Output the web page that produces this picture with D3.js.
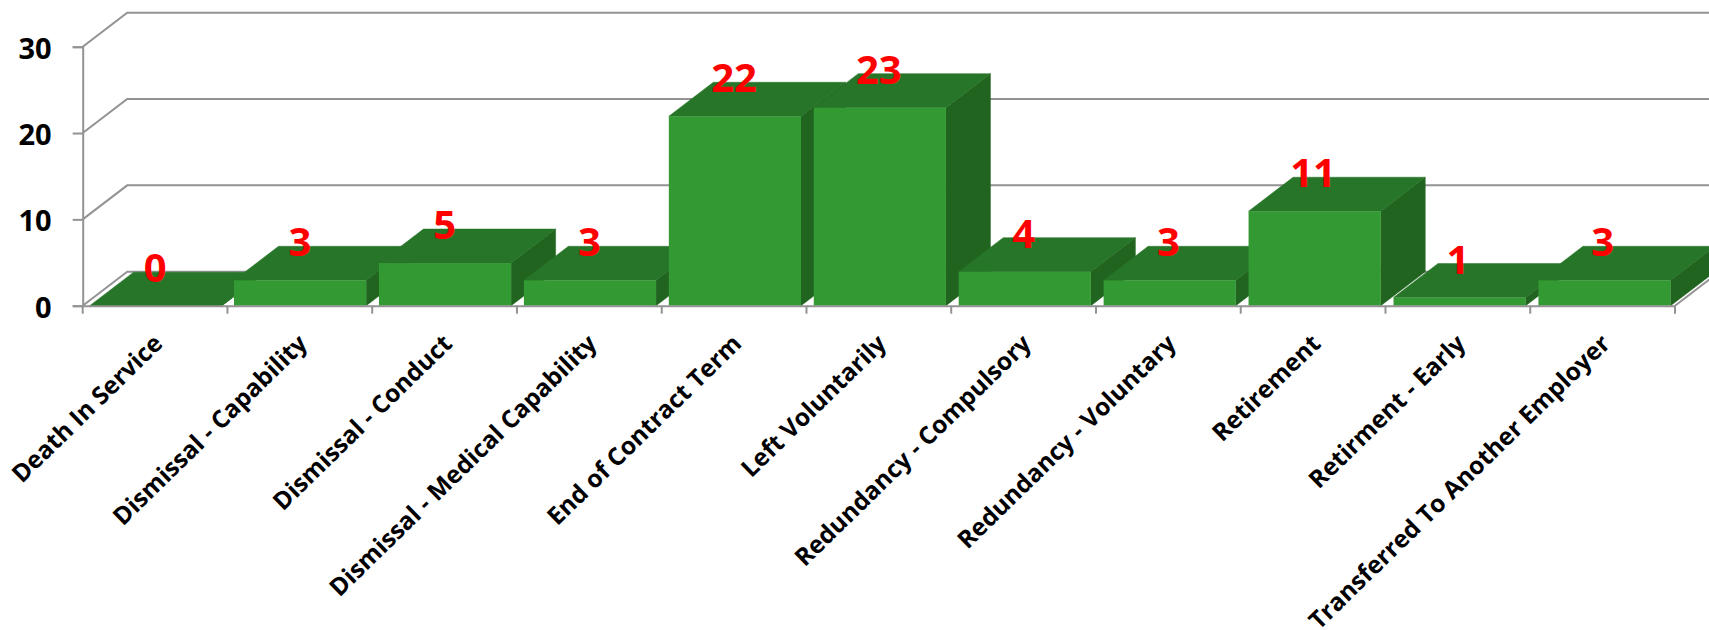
<!DOCTYPE html>
<html>
<head>
<meta charset="utf-8">
<script src="https://cdn.jsdelivr.net/npm/d3@7"></script>
<style>
  html, body { margin: 0; padding: 0; background: #fff; overflow: hidden; }
  text { font-family: "Open Sans", sans-serif; font-weight: 700; }
</style>
</head>
<body>
<div id="chart"></div>
<script>
// Leavers by reason
const reasons = ["Death In Service", "Dismissal - Capability", "Dismissal - Conduct",
    "Dismissal - Medical Capability", "End of Contract Term", "Left Voluntarily",
    "Redundancy - Compulsory", "Redundancy - Voluntary", "Retirement",
    "Retirment - Early", "Transferred To Another Employer"];
const counts = [0, 3, 5, 3, 22, 23, 4, 3, 11, 1, 3];
const yTicks = [0, 10, 20, 30];

const totalWidth = 1709;
const totalHeight = 630;
const margin = {left: 82.7, top: 46.7, right: 34, bottom: 324.3};
const width = totalWidth - margin.left - margin.right;
const height = totalHeight - margin.top - margin.bottom;

// how far the 3d box goes back
const depthX = 44.5;
const depthY = 34;

const gridColor = "#939393";
const frontColor = "#339933";
const topColor = "#277528";
const sideColor = "#216420";

const svg = d3.select("#chart")
    .append("svg")
    .attr("width", totalWidth)
    .attr("height", totalHeight)
    .append("g")
    .attr("transform", `translate(${margin.left},${margin.top})`);

const x = d3.scaleBand()
    .domain(reasons)
    .range([0, width])
    .paddingInner(0.088)
    .paddingOuter(0.044);

// bars drift a little to the right of the ticks in the original
const xBars = d3.scaleBand()
    .domain(reasons)
    .range([0, width + 2])
    .paddingInner(0.088)
    .paddingOuter(0.044);

const y = d3.scaleLinear()
    .domain([0, 30])
    .range([height, 0]);

// Back wall: slanted part and long horizontal part of each gridline
yTicks.forEach(function(t) {
    svg.append("path")
        .attr("d", `M0,${y(t)}L${depthX},${y(t) - depthY}H${totalWidth}`)
        .attr("fill", "none")
        .attr("stroke", gridColor)
        .attr("stroke-width", 2);
});

// Floor, right hand edge
svg.append("line")
    .attr("x1", width)
    .attr("y1", y(0))
    .attr("x2", width + depthX)
    .attr("y2", y(0) - depthY)
    .attr("stroke", gridColor)
    .attr("stroke-width", 2);

// Bars, left to right so the next front face covers the last side
reasons.forEach(function(reason, i) {
    const x0 = xBars(reason);
    const x1 = x0 + xBars.bandwidth();
    const yTop = y(counts[i]) + 0.5;
    const yBase = y(0);

    svg.append("path")
        .attr("d", `M${x1},${yTop}L${x1 + depthX},${yTop - depthY}V${yBase - depthY}L${x1},${yBase}Z`)
        .attr("fill", sideColor)
        .attr("stroke", sideColor)
        .attr("stroke-width", 0.5);

    svg.append("path")
        .attr("d", `M${x0},${yTop}L${x0 + depthX},${yTop - depthY}H${x1 + depthX}L${x1},${yTop}Z`)
        .attr("fill", topColor)
        .attr("stroke", topColor)
        .attr("stroke-width", 0.5);

    svg.append("rect")
        .attr("x", x0)
        .attr("y", yTop)
        .attr("width", xBars.bandwidth())
        .attr("height", yBase - yTop)
        .attr("fill", frontColor);
});

// Y axis
const yAxis = svg.append("g")
    .call(d3.axisLeft(y).tickValues(yTicks).tickSize(10).tickPadding(21).tickFormat(d3.format("d")));
yAxis.selectAll("line, path").attr("stroke", gridColor).attr("stroke-width", 2);
yAxis.selectAll("text").attr("fill", "#000").attr("dy", "0.39em").style("font-size", "29px");

// X axis, ticks sit on the edges of the bands
const xAxis = svg.append("g")
    .attr("transform", `translate(0,${height})`)
    .call(d3.axisBottom(x).tickSize(0).tickPadding(0));
xAxis.select("path").attr("stroke", gridColor).attr("stroke-width", 2);
xAxis.selectAll("text")
    .attr("fill", "#000")
    .style("font-size", "24.5px")
    .style("text-anchor", "end")
    .attr("dy", 0)
    .attr("y", 0)
    .attr("transform", "translate(9,39.5) rotate(-44.3)");
xAxis.selectAll(".tick line")
    .attr("x1", -x.step() / 2)
    .attr("x2", -x.step() / 2)
    .attr("y2", 8)
    .attr("stroke", gridColor)
    .attr("stroke-width", 2);
svg.append("line")
    .attr("x1", width)
    .attr("x2", width)
    .attr("y1", height)
    .attr("y2", height + 8)
    .attr("stroke", gridColor)
    .attr("stroke-width", 2);

// Value labels
svg.selectAll(".count")
    .data(reasons)
    .enter()
    .append("text")
    .attr("class", "count")
    .attr("x", d => x(d) + x.bandwidth() / 2)
    .attr("y", (d, i) => y(counts[i]) - 37.5)
    .attr("dy", "0.35em")
    .attr("fill", "#ff0000")
    .style("font-size", "40px")
    .style("text-anchor", "middle")
    .text((d, i) => counts[i]);
</script>
</body>
</html>
